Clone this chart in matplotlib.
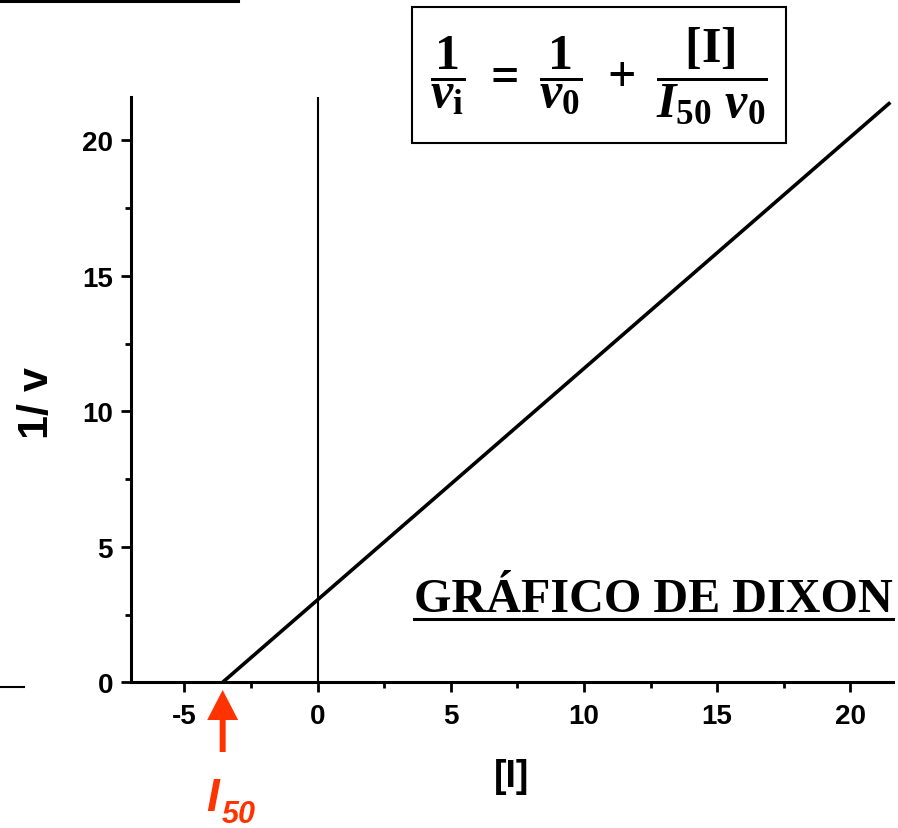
import numpy as np
import matplotlib.pyplot as plt
from matplotlib.lines import Line2D
from matplotlib.transforms import blended_transform_factory

plt.rcParams['font.family'] = ['Liberation Sans', 'DejaVu Sans']
plt.rcParams['font.weight'] = 'bold'
plt.rcParams['axes.unicode_minus'] = False
plt.rcParams['mathtext.fontset'] = 'custom'
plt.rcParams['mathtext.rm'] = 'Liberation Serif:bold'
plt.rcParams['mathtext.it'] = 'Liberation Serif:italic:bold'
plt.rcParams['mathtext.bf'] = 'Liberation Serif:bold'

# Dixon plot parameters: 1/v = 1/v0 + [I]/(I50 v0)
inv_v0 = 3.04
i50 = 3.56
x_end = 21.5

x_ticks = [-5, 0, 5, 10, 15, 20]
y_ticks = [0, 5, 10, 15, 20]

W, H = 898, 829
fig = plt.figure(figsize=(W / 100, H / 100), dpi=100)
ax = fig.add_axes([0.1459, 0.1758, 0.8485, 0.7060])

xs = np.array([-i50, x_end])
ys = inv_v0 + xs * inv_v0 / i50
ax.plot(xs, ys, color='black', lw=2.6, solid_capstyle='butt')
ax.axvline(0, color='black', lw=1.5)

ax.set_xlim(-7.0, 21.6)
ax.set_ylim(0, 21.6)
ax.set_xticks(x_ticks)
ax.set_yticks(y_ticks)
ax.set_xticks(np.arange(-2.5, 21.6, 5), minor=True)
ax.set_yticks(np.arange(2.5, 21.6, 5), minor=True)

for side in ['top', 'right']:
    ax.spines[side].set_visible(False)
for side in ['left', 'bottom']:
    ax.spines[side].set_linewidth(2.2)

ax.tick_params(which='major', direction='out', length=7, width=2.0,
               labelsize=20, pad=8)
ax.tick_params(which='minor', direction='out', length=4.5, width=2.0)
ax.tick_params(axis='y', pad=6)

ax.set_xlabel('[I]', fontsize=27, fontweight='bold', labelpad=21)
ax.set_ylabel('1/ v', fontsize=31, fontweight='bold', va='center')
ax.yaxis.set_label_coords(-0.123, 0.478)

# I50 marker below the x intercept (x in data units, y in figure pixels)
red = '#ff3300'
trans = blended_transform_factory(ax.transData, fig.transFigure)
px = 1.0 / 26.67  # data units per pixel along x
tip, base, tail = 691, 721, 753
head_w, shaft_w = 31 * px, 6 * px
arrow_x = [-i50, -i50 + head_w / 2, -i50 + shaft_w / 2, -i50 + shaft_w / 2,
           -i50 - shaft_w / 2, -i50 - shaft_w / 2, -i50 - head_w / 2]
arrow_y = [1 - v / H for v in [tip, base, base, tail, tail, base, base]]
ax.fill(arrow_x, arrow_y, color=red, lw=0, transform=trans, clip_on=False)

fig.text(206 / W, 1 - 811 / H, 'I', color=red, fontsize=33,
         fontstyle='italic', fontweight='bold', ha='left', va='baseline')
fig.text(222 / W, 1 - 823 / H, '50', color=red, fontsize=22,
         fontstyle='italic', fontweight='bold', ha='left', va='baseline')

# Equation box
fig.text(599 / W, 1 - 76 / H,
         r'$\dfrac{1}{v_{\mathrm{i}}}\ =\ \dfrac{1}{v_0}\ +\ \dfrac{[\mathrm{I}]}{I_{50}\ v_0}$',
         fontsize=36, ha='center', va='center',
         bbox=dict(boxstyle='square,pad=0.36', fc='white', ec='black', lw=1.5))

title = fig.text(893 / W, 1 - 612 / H, 'GRÁFICO DE DIXON', fontsize=34.7,
                 family='Liberation Serif', fontweight='bold',
                 ha='right', va='baseline')
fig.canvas.draw()
bb = title.get_window_extent()
fig.add_artist(Line2D([bb.x0 / W, bb.x1 / W], [1 - 620 / H, 1 - 620 / H],
                      color='black', lw=2.2))

# Edges of neighbouring slide elements
fig.add_artist(Line2D([0, 238 / W], [1 - 1.5 / H, 1 - 1.5 / H],
                      color='black', lw=2.2))
fig.add_artist(Line2D([0, 24 / W], [1 - 688 / H, 1 - 688 / H],
                      color='black', lw=1.5))

fig.savefig('out.png', dpi=100)
